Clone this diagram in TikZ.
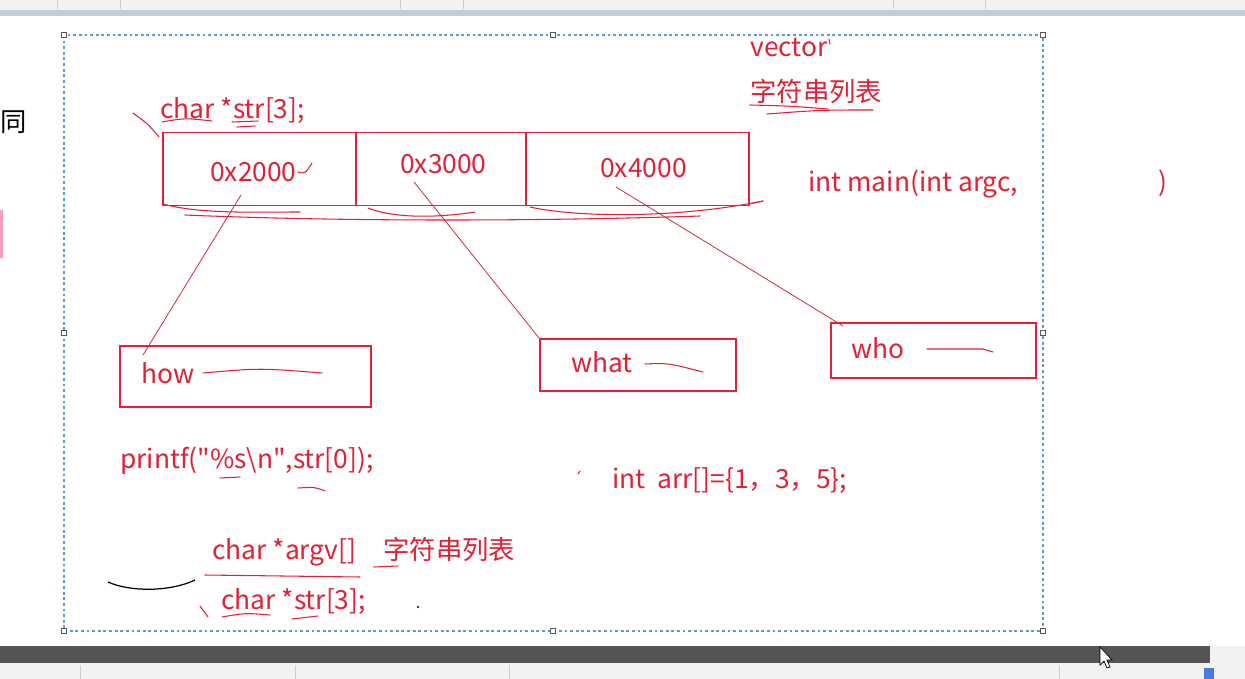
\documentclass[tikz,border=0pt]{standalone}
\usepackage{fontspec}
\setmainfont{Noto Sans CJK SC}
\usetikzlibrary{positioning}

\definecolor{inkred}{RGB}{224,34,52}
\definecolor{penred}{RGB}{205,45,60}
\definecolor{selblue}{RGB}{91,155,213}
\definecolor{barlight}{RGB}{242,242,242}
\definecolor{bardark}{RGB}{85,85,85}
\definecolor{bandblue}{RGB}{198,204,218}
\definecolor{edgepink}{RGB}{246,160,192}

\begin{document}
\begin{tikzpicture}
[
	x=0.2mm,
	y=-0.2mm,
	codetxt/.style={inkred,anchor=base west,inner sep=0pt,font=\fontsize{15}{17}\selectfont},
	cellbox/.style={draw=inkred,line width=0.6pt,minimum height=1.46cm,inner sep=0pt},
	strbox/.style={draw=inkred,line width=0.6pt,inner sep=0pt},
	ptr/.style={penred,line width=0.45pt},
	scrib/.style={inkred,line width=0.6pt,line cap=round},
	handle/.style={draw=gray!70!black,fill=white,line width=0.4pt,minimum width=0.9mm,minimum height=1.1mm,inner sep=0pt}
]

	\useasboundingbox (0,0) rectangle (1245,679);
	\fill[white] (0,0) rectangle (1245,679);

	% window chrome
	\fill[barlight] (0,0) rectangle (1245,10);
	\fill[bandblue] (0,10) rectangle (1245,16);
	\foreach \sx in {57,120,400,463,893,985}
		\draw[gray!40,line width=0.4pt] (\sx,0) -- (\sx,9);
	\fill[bardark] (0,646) rectangle (1210,663);
	\fill[barlight] (1210,646) rectangle (1245,663);
	\fill[barlight] (0,663) rectangle (1245,679);
	\foreach \sx in {80,295,509,1059}
		\draw[gray!40,line width=0.4pt] (\sx,665) -- (\sx,679);
	\fill[selblue!80!blue] (1204,668) rectangle (1214,679);
	\fill[edgepink] (0,210) rectangle (3,258);
	\node[anchor=base west,inner sep=0pt,font=\fontsize{15}{17}\selectfont] (tong) at (0,131) {同};

	% selection frame
	\draw[selblue,line width=0.8pt,dash pattern=on 1.6pt off 1.6pt] (64,35) rectangle (1043,631);
	\foreach \hx/\hy in {64/35,553/35,1043/35,64/333,1043/333,64/631,553/631,1043/631}
		\node[handle] at (\hx,\hy) {};

	% array of pointers
	\node[codetxt] (decl) at (160,118) {char *str[3];};
	\node[cellbox,minimum width=3.86cm] (cell0) at (259.5,169) {};
	\node[cellbox,minimum width=3.4cm] (cell1) at (441,169) {};
	\node[cellbox,minimum width=4.46cm] (cell2) at (637.5,169) {};
	\node[codetxt] (adr0) at (210,181) {0x2000};
	\node[codetxt] (adr1) at (400,173) {0x3000};
	\node[codetxt] (adr2) at (600,177) {0x4000};

	% strings
	\node[strbox,minimum width=5.02cm,minimum height=1.22cm] (how) at (245.5,376.5) {};
	\node[strbox,minimum width=3.92cm,minimum height=1.04cm] (what) at (638,365) {};
	\node[strbox,minimum width=4.1cm,minimum height=1.1cm] (who) at (933.5,350.5) {};
	\node[codetxt] (howtxt) at (141,383) {how};
	\node[codetxt] (whattxt) at (571,372) {what};
	\node[codetxt] (whotxt) at (851,358) {who};

	\coordinate (p0) at (241,195);
	\coordinate (p1) at (414,182);
	\coordinate (p2) at (616,187);
	\coordinate (howtip) at (143,355);
	\coordinate (whotip) at (843,326);
	\draw[ptr] (p0) -- (howtip);
	\draw[ptr] (p1) -- (what.north west);
	\draw[ptr] (p2) -- (whotip);

	% notes
	\node[codetxt] (vec) at (750,56) {vector};
	\node[codetxt] (strlist) at (750,101) {字符串列表};
	\node[codetxt] (mainsig) at (808,191) {int main(int argc,};
	\node[codetxt] (mainend) at (1158,191) {)};
	\node[codetxt] (prn) at (120,468) {printf(\textquotedbl\%s\textbackslash n\textquotedbl,str[0]);};
	\node[codetxt] (arr) at (612,488) {int\ \ arr[]=\{1，3，5\};};
	\node[codetxt] (argv) at (212,559) {char *argv[]};
	\node[codetxt] (strlist2) at (383,559) {字符串列表};
	\node[codetxt] (decl2) at (221,609) {char *str[3];};

	% pen scribbles
	\draw[scrib] (133,113) .. controls (148,124) .. (159,137);
	\draw[scrib] (162,122) .. controls (185,118) .. (212,121);
	\draw[scrib] (232,122) -- (258,121);
	\draw[scrib] (237,127) -- (255,126);
	\draw[scrib] (298,172) .. controls (305,174) .. (312,163);
	\draw[scrib] (749,204) -- (763,201);
	\draw[scrib] (163,204) .. controls (200,214) and (250,212) .. (300,212);
	\draw[scrib] (368,208) .. controls (390,217) and (430,219) .. (475,212);
	\draw[scrib] (530,207) .. controls (580,218) and (680,218) .. (763,201);
	\draw[scrib] (185,215) .. controls (350,222) and (550,221) .. (700,216);
	\draw[scrib] (829,39) -- (830,44);
	\draw[scrib] (750,105) .. controls (790,106) .. (828,109);
	\draw[scrib] (767,114) .. controls (820,110) .. (873,110);
	\draw[scrib] (203,373) .. controls (260,368) .. (322,373);
	\draw[scrib] (645,364) .. controls (668,363) .. (703,372);
	\draw[scrib] (927,349) -- (983,349) -- (993,352);
	\draw[scrib] (220,478) -- (240,477);
	\draw[scrib] (298,488) .. controls (315,487) .. (325,491);
	\draw[scrib] (578,474) -- (580,471);
	\draw[scrib] (205,575) -- (360,577);
	\draw[scrib] (374,567) -- (398,566);
	\draw[scrib] (222,617) .. controls (245,613) .. (270,615);
	\draw[scrib] (292,619) -- (318,616);
	\draw[scrib] (200,606) -- (208,617);
	\draw[black,line width=0.7pt] (108,582) .. controls (130,592) and (170,592) .. (195,580);
	\fill[black] (418,607) circle (1.2);

	% mouse pointer
	\draw[black,fill=white,line width=0.4pt] (1100,647) -- (1100,665) -- (1104,661) -- (1107,668) -- (1110,667) -- (1107,660) -- (1112,660) -- cycle;

\end{tikzpicture}
\end{document}
